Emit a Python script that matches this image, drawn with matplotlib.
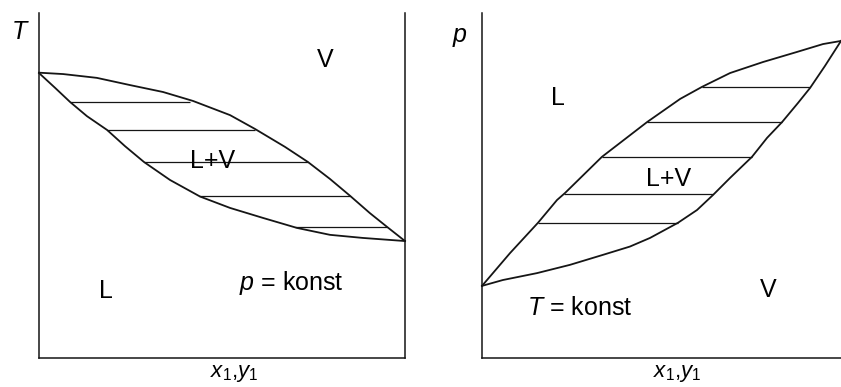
import matplotlib
matplotlib.use("Agg")
import matplotlib.pyplot as plt

# ---------------------------------------------------------------------------
# Data (composition 0..1, normalised T / p 0..1)
# ---------------------------------------------------------------------------

# Left: T-x,y diagram at constant p
left_dew_x = [0.0, 0.066, 0.158, 0.249, 0.339, 0.421, 0.522, 0.590, 0.672,
              0.735, 0.795, 0.850, 0.904, 0.951, 1.0]
left_dew_y = [0.827, 0.823, 0.812, 0.791, 0.771, 0.745, 0.704, 0.664, 0.612,
              0.568, 0.519, 0.470, 0.420, 0.380, 0.339]
left_bub_x = [0.0, 0.044, 0.085, 0.131, 0.186, 0.235, 0.287, 0.358, 0.440,
              0.522, 0.612, 0.705, 0.795, 0.885, 1.0]
left_bub_y = [0.826, 0.783, 0.742, 0.701, 0.661, 0.614, 0.568, 0.516, 0.468,
              0.435, 0.406, 0.377, 0.357, 0.348, 0.339]
left_tie_y = [0.742, 0.661, 0.568, 0.470, 0.380]
left_tie_x0 = [0.085, 0.186, 0.287, 0.436, 0.699]
left_tie_x1 = [0.413, 0.590, 0.735, 0.850, 0.951]

# Right: p-x,y diagram at constant T
right_bub_x = [0.0, 0.078, 0.156, 0.209, 0.231, 0.334, 0.460, 0.552, 0.613,
               0.691, 0.783, 0.877, 0.950, 1.0]
right_bub_y = [0.209, 0.304, 0.392, 0.458, 0.478, 0.583, 0.684, 0.751, 0.786,
               0.826, 0.858, 0.887, 0.910, 0.919]
right_dew_x = [0.0, 0.058, 0.153, 0.245, 0.337, 0.412, 0.468, 0.546, 0.599,
               0.643, 0.691, 0.752, 0.794, 0.836, 0.880, 0.914, 0.955, 1.0]
right_dew_y = [0.209, 0.226, 0.246, 0.270, 0.299, 0.323, 0.348, 0.392, 0.429,
               0.472, 0.522, 0.583, 0.638, 0.684, 0.739, 0.783, 0.846, 0.919]
right_tie_y = [0.392, 0.475, 0.583, 0.684, 0.786]
right_tie_x0 = [0.156, 0.229, 0.334, 0.460, 0.613]
right_tie_x1 = [0.546, 0.644, 0.752, 0.836, 0.914]

# ---------------------------------------------------------------------------
# Style
# ---------------------------------------------------------------------------
plt.rcParams["font.family"] = ["Liberation Sans", "DejaVu Sans"]
plt.rcParams["mathtext.fontset"] = "custom"
plt.rcParams["mathtext.rm"] = "Liberation Sans"
plt.rcParams["mathtext.it"] = "Liberation Sans:italic"

INK = "#151515"
FS = 18

fig = plt.figure(figsize=(8.41, 3.87), dpi=100)
ax_l = fig.add_axes([39 / 841, 29 / 387, 366 / 841, 345 / 387])
ax_r = fig.add_axes([482 / 841, 29 / 387, 359 / 841, 345 / 387])

for ax in (ax_l, ax_r):
    ax.set_xlim(0, 1)
    ax.set_ylim(0, 1)
    ax.set_xticks([])
    ax.set_yticks([])
    ax.spines["top"].set_visible(False)
    for side in ("left", "bottom", "right"):
        ax.spines[side].set_color(INK)
        ax.spines[side].set_linewidth(1.1)
ax_r.spines["right"].set_visible(False)

# Left panel
ax_l.plot(left_dew_x, left_dew_y, color=INK, lw=1.3, clip_on=False)
ax_l.plot(left_bub_x, left_bub_y, color=INK, lw=1.3, clip_on=False)
ax_l.hlines(left_tie_y, left_tie_x0, left_tie_x1, color=INK, lw=0.9)
ax_l.text(-0.052, 0.945, "$T$", fontsize=FS, ha="center", va="center")
ax_l.text(0.781, 0.864, "V", fontsize=FS, ha="center", va="center")
ax_l.text(0.473, 0.571, "L+V", fontsize=FS, ha="center", va="center")
ax_l.text(0.183, 0.194, "L", fontsize=FS, ha="center", va="center")
ax_l.text(0.689, 0.217, "$p$ = konst", fontsize=FS, ha="center", va="center")
ax_l.text(0.533, -0.045, "$x_1$,$y_1$", fontsize=FS - 2, ha="center", va="center")

# Right panel
ax_r.plot(right_bub_x, right_bub_y, color=INK, lw=1.3, clip_on=False)
ax_r.plot(right_dew_x, right_dew_y, color=INK, lw=1.3, clip_on=False)
ax_r.hlines(right_tie_y, right_tie_x0, right_tie_x1, color=INK, lw=0.9)
ax_r.text(-0.061, 0.930, "$p$", fontsize=FS, ha="center", va="center")
ax_r.text(0.212, 0.754, "L", fontsize=FS, ha="center", va="center")
ax_r.text(0.520, 0.519, "L+V", fontsize=FS, ha="center", va="center")
ax_r.text(0.797, 0.197, "V", fontsize=FS, ha="center", va="center")
ax_r.text(0.273, 0.145, "$T$ = konst", fontsize=FS, ha="center", va="center")
ax_r.text(0.543, -0.045, "$x_1$,$y_1$", fontsize=FS - 2, ha="center", va="center")

fig.savefig("out.png", dpi=100)
